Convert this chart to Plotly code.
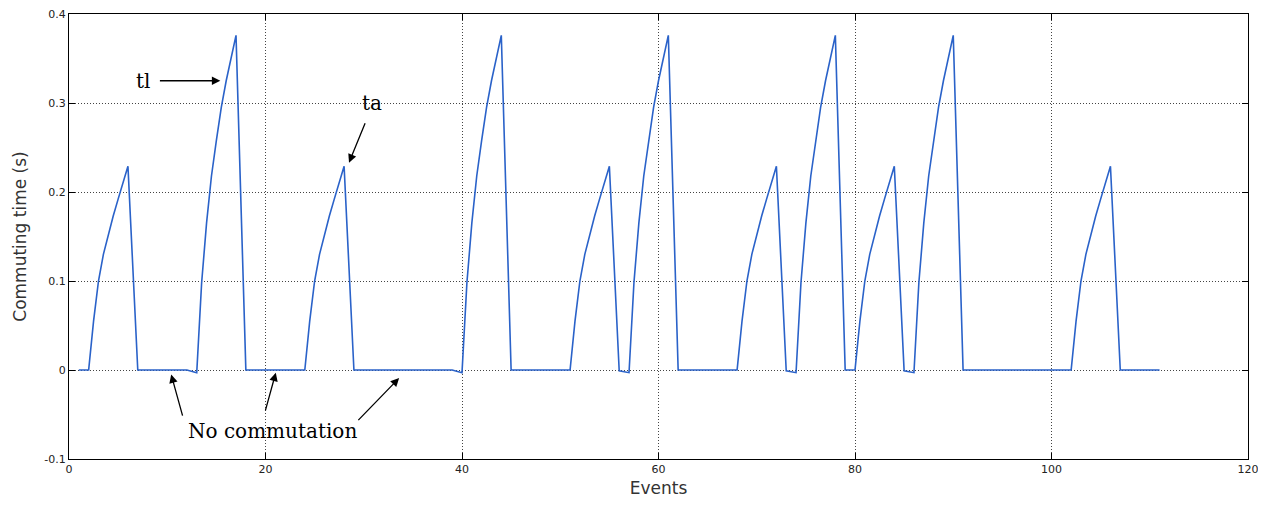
import plotly.graph_objects as go

# Events (x) and commuting time in seconds (y)
events = [
    1, 2, 2.5, 3, 3.5, 4, 4.5, 5, 5.5, 6, 7,
    12, 13, 13.5, 14, 14.5, 15, 15.5, 16, 16.5, 17, 18,
    24, 24.5, 25, 25.5, 26, 26.5, 27, 27.5, 28, 29,
    39, 40, 40.5, 41, 41.5, 42, 42.5, 43, 43.5, 44, 45,
    51, 51.5, 52, 52.5, 53, 53.5, 54, 54.5, 55, 56,
    57, 57.5, 58, 58.5, 59, 59.5, 60, 60.5, 61, 62,
    68, 68.5, 69, 69.5, 70, 70.5, 71, 71.5, 72, 73,
    74, 74.5, 75, 75.5, 76, 76.5, 77, 77.5, 78, 79,
    80, 80.5, 81, 81.5, 82, 82.5, 83, 83.5, 84, 85,
    86, 86.5, 87, 87.5, 88, 88.5, 89, 89.5, 90, 91,
    102, 102.5, 103, 103.5, 104, 104.5, 105, 105.5, 106, 107,
    111,
]
commuting_time = [
    0, 0, 0.055, 0.100, 0.130, 0.153, 0.173, 0.192, 0.210, 0.229, 0,
    0, -0.003, 0.098, 0.165, 0.218, 0.258, 0.295, 0.325, 0.352, 0.376, 0,
    0, 0.055, 0.100, 0.130, 0.153, 0.173, 0.192, 0.210, 0.229, 0,
    0, -0.003, 0.098, 0.165, 0.218, 0.258, 0.295, 0.325, 0.352, 0.376, 0,
    0, 0.055, 0.100, 0.130, 0.153, 0.173, 0.192, 0.210, 0.229, -0.001,
    -0.003, 0.098, 0.165, 0.218, 0.258, 0.295, 0.325, 0.352, 0.376, 0,
    0, 0.055, 0.100, 0.130, 0.153, 0.173, 0.192, 0.210, 0.229, -0.001,
    -0.003, 0.098, 0.165, 0.218, 0.258, 0.295, 0.325, 0.352, 0.376, 0,
    0, 0.055, 0.100, 0.130, 0.153, 0.173, 0.192, 0.210, 0.229, -0.001,
    -0.003, 0.098, 0.165, 0.218, 0.258, 0.295, 0.325, 0.352, 0.376, 0,
    0, 0.055, 0.100, 0.130, 0.153, 0.173, 0.192, 0.210, 0.229, 0,
    0,
]

x_ticks = [0, 20, 40, 60, 80, 100, 120]
y_ticks = [-0.1, 0, 0.1, 0.2, 0.3, 0.4]
y_tick_labels = ["-0.1", "0", "0.1", "0.2", "0.3", "0.4"]

fig = go.Figure()
fig.add_trace(go.Scatter(
    x=events, y=commuting_time, mode="lines",
    line=dict(color="#2a62c9", width=1.6),
    showlegend=False, hoverinfo="x+y",
))

axis_common = dict(
    showline=True, linecolor="black", linewidth=1, mirror="ticks",
    ticks="inside", ticklen=6, tickcolor="black", tickwidth=1,
    showgrid=True, gridcolor="#444444", griddash="1px,2px", gridwidth=1.2,
    zeroline=False, automargin=False, ticklabeloverflow="allow",
    tickfont=dict(family="DejaVu Sans", size=11, color="#222222"),
    title_font=dict(family="DejaVu Sans", size=17, color="#333333"),
)

fig.update_xaxes(range=[0, 120], tickvals=x_ticks, title_text="Events",
                 title_standoff=14, **axis_common)
fig.update_yaxes(range=[-0.1, 0.4], tickvals=y_ticks, ticktext=y_tick_labels,
                 title_text="Commuting time (s)", title_standoff=13, **axis_common)

serif = dict(family="DejaVu Serif", size=20, color="black")
arrow_style = dict(showarrow=True, arrowhead=2, arrowsize=1.3, arrowwidth=1.3,
                   arrowcolor="black", xref="x", yref="y", axref="x", ayref="y",
                   text="", standoff=0, startstandoff=0)

annotations = [
    dict(x=7.55, y=0.325, text="tl", showarrow=False, font=serif, xref="x", yref="y"),
    dict(x=30.85, y=0.300, text="ta", showarrow=False, font=serif, xref="x", yref="y"),
    dict(x=20.7, y=-0.068, text="No commutation", showarrow=False, font=serif,
         xref="x", yref="y"),
    dict(x=15.4, y=0.325, ax=9.1, ay=0.325, **arrow_style),
    dict(x=28.5, y=0.233, ax=30.2, ay=0.279, **arrow_style),
    dict(x=10.4, y=-0.005, ax=11.6, ay=-0.053, **arrow_style),
    dict(x=21.05, y=-0.003, ax=19.95, ay=-0.047, **arrow_style),
    dict(x=33.6, y=-0.009, ax=29.3, ay=-0.058, **arrow_style),
]
fig.update_layout(
    annotations=annotations,
    width=1250, height=490,
    margin=dict(l=61, r=10, t=6, b=39),
    paper_bgcolor="white", plot_bgcolor="white",
)

fig.write_html("out.html")
